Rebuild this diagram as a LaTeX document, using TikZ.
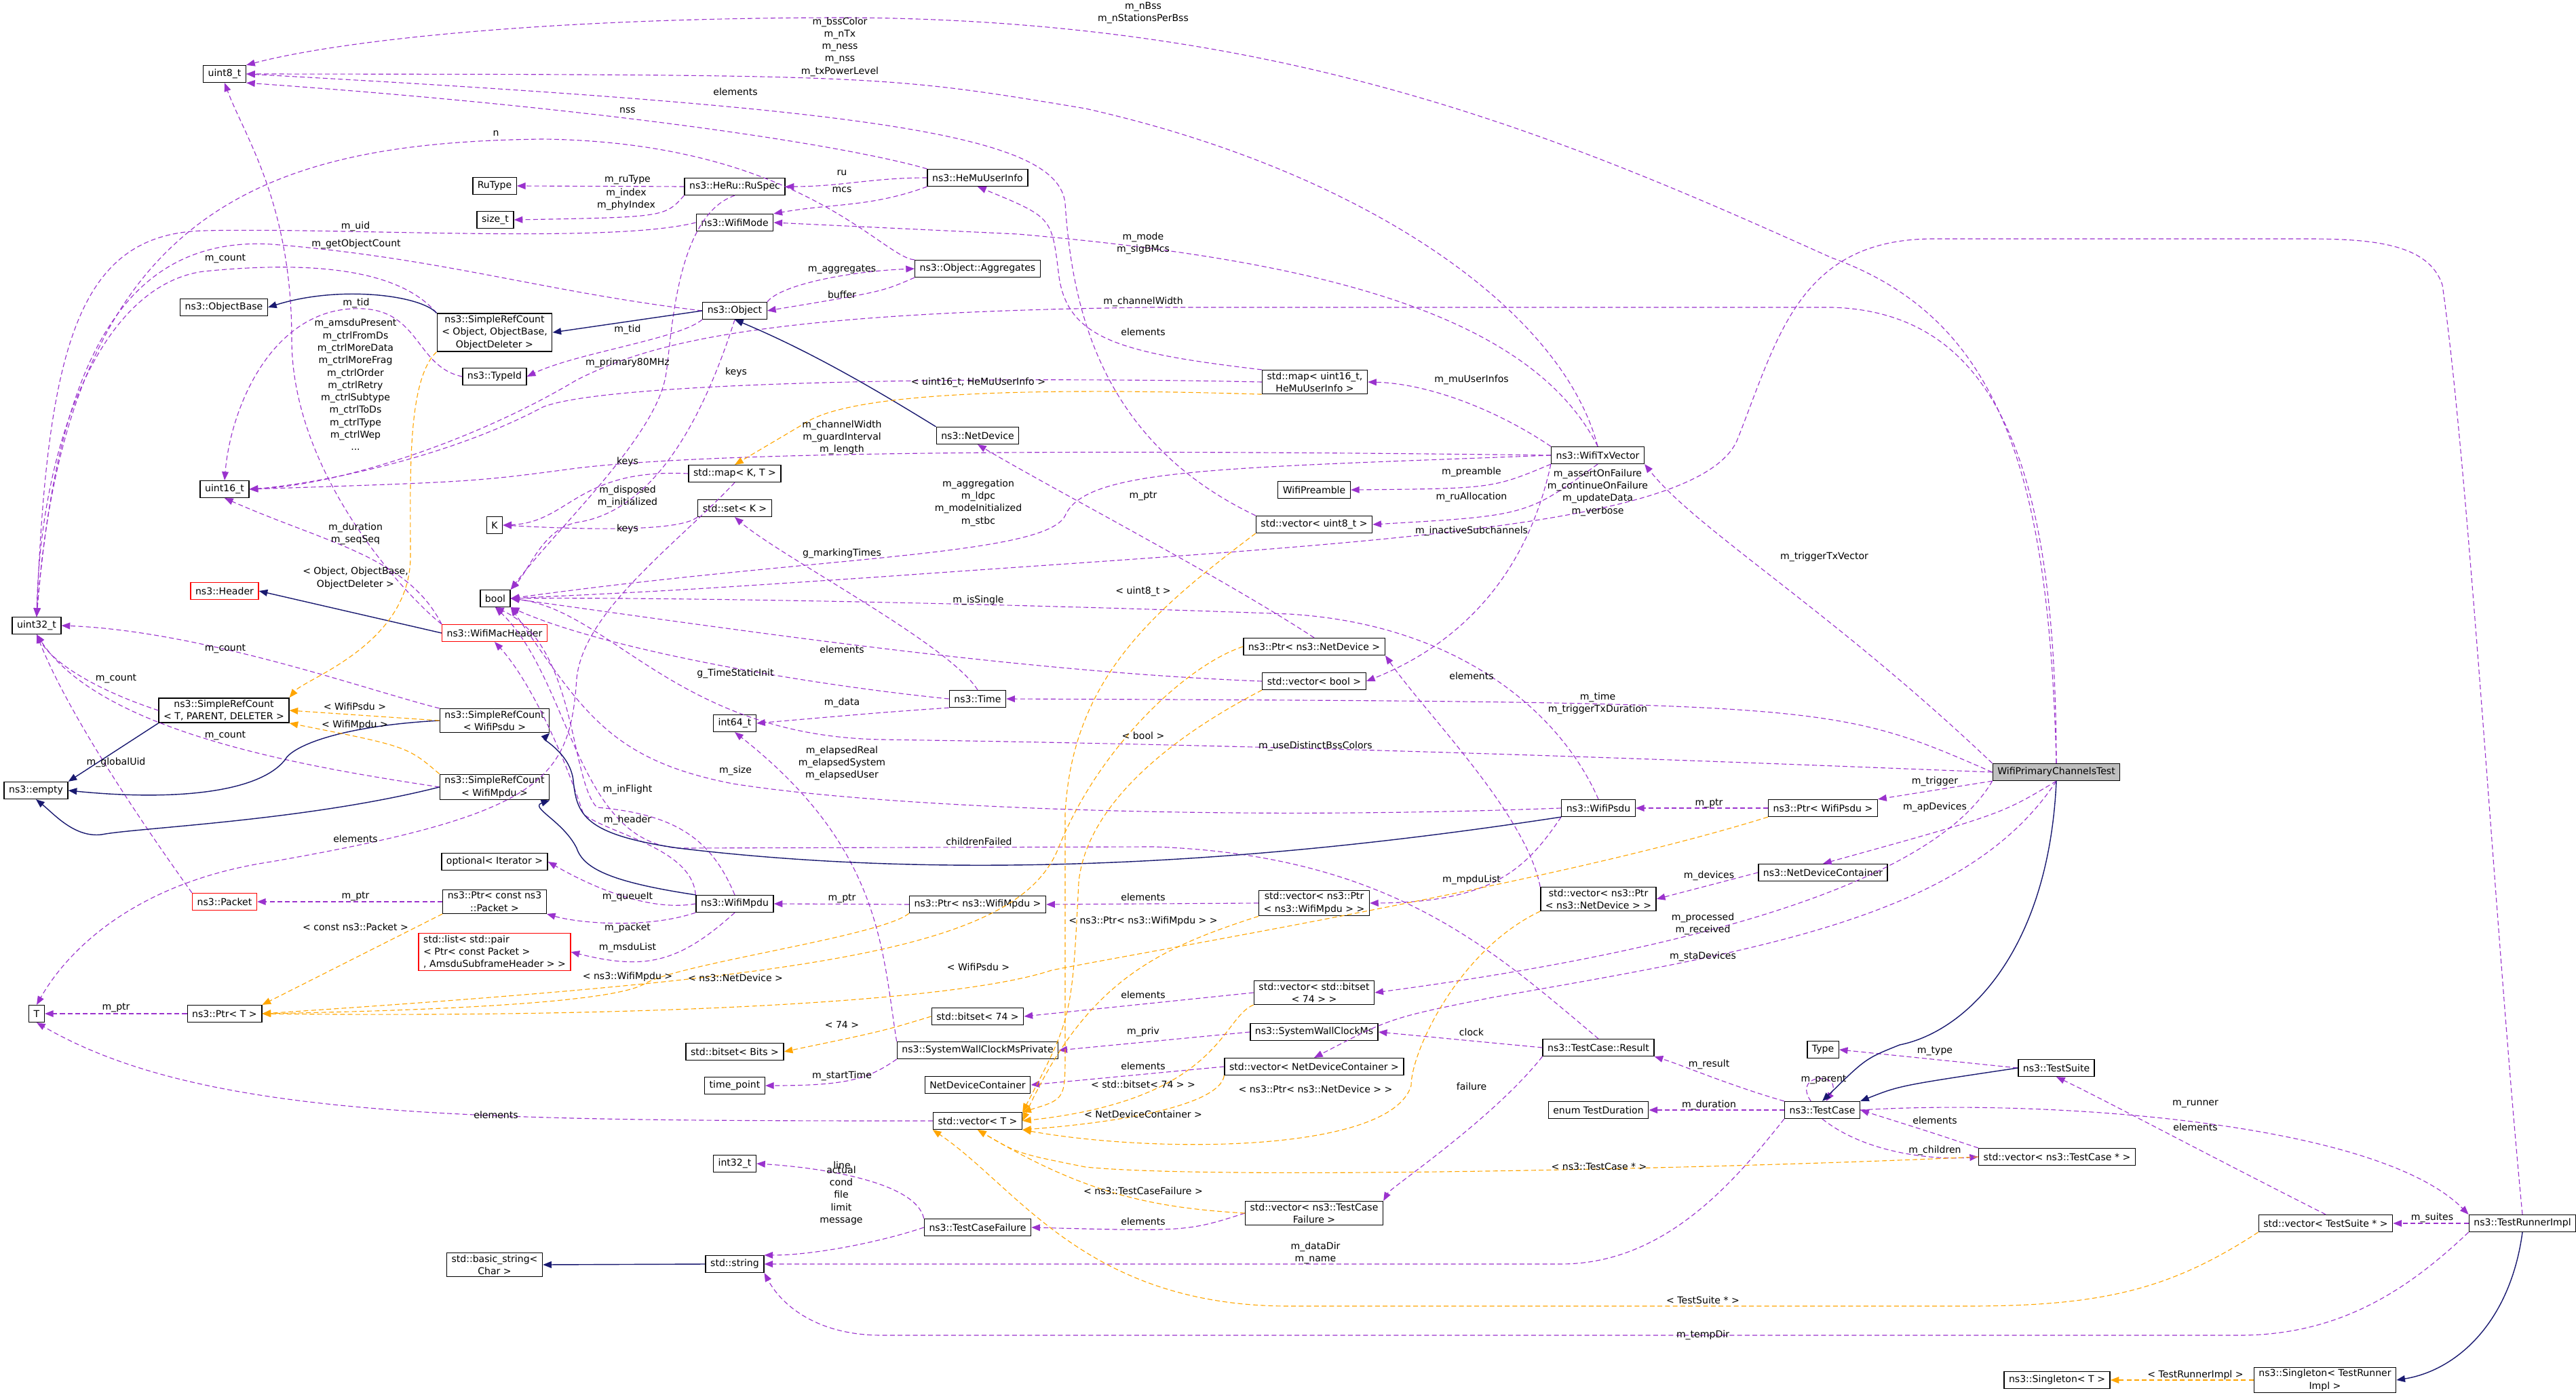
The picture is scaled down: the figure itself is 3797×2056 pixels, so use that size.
\documentclass[tikz,border=0pt]{standalone}
\usepackage{fontspec}
\setmainfont{DejaVu Sans}
\usetikzlibrary{arrows.meta}
\definecolor{ucol}{HTML}{9A32CD}
\definecolor{icol}{HTML}{191970}
\definecolor{tcol}{HTML}{FFA500}
\begin{document}
\begin{tikzpicture}[x=0.025cm,y=-0.025cm,
 every node/.style={font=\fontsize{10}{13}\selectfont},
 box/.style={draw=black,line width=1pt,fill=white,inner xsep=5pt,inner ysep=2pt,minimum height=0.62cm,align=center},
 rbox/.style={box,draw=red},
 gbox/.style={box,fill=black!25},
 lab/.style={inner sep=0pt,align=center},
 ue/.style={draw=ucol,line width=0.8pt,dash pattern=on 5pt off 3pt,-{Triangle[length=9pt,width=7pt]}},
 ie/.style={draw=icol,line width=1pt,-{Triangle[length=9pt,width=7pt]}},
 te/.style={draw=tcol,line width=0.8pt,dash pattern=on 5pt off 3pt,-{Triangle[length=9pt,width=7pt]}}]
\useasboundingbox (0,0) rectangle (3797,2056);
% nodes
\node[box] (u8) at (331,109) {uint8\_t};
\node[box] (rutype) at (729,274) {RuType};
\node[box] (ruspec) at (1083,275) {ns3::HeRu::RuSpec};
\node[box] (sizet) at (730,324) {size\_t};
\node[box] (wifimode) at (1083,328) {ns3::WifiMode};
\node[box] (objbase) at (330,453) {ns3::ObjectBase};
\node[box] (srcobj) at (729,490) {ns3::SimpleRefCount\\< Object, ObjectBase,\\ObjectDeleter >};
\node[box] (obj) at (1083,458) {ns3::Object};
\node[box] (typeid) at (729,555) {ns3::TypeId};
\node[box] (u16) at (331,721) {uint16\_t};
\node[box] (mapkt) at (1083,698) {std::map< K, T >};
\node[box] (kk) at (729,774) {K};
\node[box] (setk) at (1083,749) {std::set< K >};
\node[box] (bool) at (730,882) {bool};
\node[rbox] (header) at (331,871) {ns3::Header};
\node[box] (u32) at (54,922) {uint32\_t};
\node[rbox] (macheader) at (729,933) {ns3::WifiMacHeader};
\node[box] (srctpd) at (330,1047) {ns3::SimpleRefCount\\< T, PARENT, DELETER >};
\node[box] (srcpsdu) at (729,1062) {ns3::SimpleRefCount\\< WifiPsdu >};
\node[box] (empty) at (53,1165) {ns3::empty};
\node[box] (srcmpdu) at (729,1160) {ns3::SimpleRefCount\\< WifiMpdu >};
\node[box] (optit) at (729,1270) {optional< Iterator >};
\node[rbox] (packet) at (331,1329) {ns3::Packet};
\node[box] (ptrpkt) at (729,1329) {ns3::Ptr< const ns3\\::Packet >};
\node[box] (mpdu) at (1083,1332) {ns3::WifiMpdu};
\node[rbox,align=left] (list) at (729,1403) {std::list< std::pair\\< Ptr< const Packet >\\, AmsduSubframeHeader > >};
\node[box] (T) at (54,1494) {T};
\node[box] (ptrT) at (331,1494) {ns3::Ptr< T >};
\node[box] (bitsetbits) at (1083,1550) {std::bitset< Bits >};
\node[box] (timepoint) at (1083,1600) {time\_point};
\node[box] (i64) at (1083,1066) {int64\_t};
\node[box] (i32) at (1083,1715) {int32\_t};
\node[box] (bstring) at (729,1864) {std::basic\_string<\\Char >};
\node[box] (string) at (1083,1863) {std::string};
\node[box] (hemu) at (1441,262) {ns3::HeMuUserInfo};
\node[box] (aggr) at (1441,396) {ns3::Object::Aggregates};
\node[box] (mapu16) at (1938,563) {std::map< uint16\_t,\\HeMuUserInfo >};
\node[box] (netdev) at (1441,642) {ns3::NetDevice};
\node[box] (txv) at (2355,671) {ns3::WifiTxVector};
\node[box] (preamble) at (1937,722) {WifiPreamble};
\node[box] (vecu8) at (1937,773) {std::vector< uint8\_t >};
\node[box] (ptrnd) at (1937,953) {ns3::Ptr< ns3::NetDevice >};
\node[box] (vecbool) at (1937,1004) {std::vector< bool >};
\node[box] (time) at (1441,1030) {ns3::Time};
\node[box] (psdu) at (2356,1191) {ns3::WifiPsdu};
\node[box] (ptrmpdu) at (1441,1333) {ns3::Ptr< ns3::WifiMpdu >};
\node[box] (vecptrmpdu) at (1937,1331) {std::vector< ns3::Ptr\\< ns3::WifiMpdu > >};
\node[box] (vecptrnd) at (2356,1325) {std::vector< ns3::Ptr\\< ns3::NetDevice > >};
\node[box] (vecbs) at (1937,1463) {std::vector< std::bitset\\< 74 > >};
\node[box] (bs74) at (1441,1498) {std::bitset< 74 >};
\node[box] (swcm) at (1937,1521) {ns3::SystemWallClockMs};
\node[box] (swcmp) at (1441,1548) {ns3::SystemWallClockMsPrivate};
\node[box] (vecndc) at (1937,1572) {std::vector< NetDeviceContainer >};
\node[box] (ndc) at (1441,1599) {NetDeviceContainer};
\node[box] (vecT) at (1441,1652) {std::vector< T >};
\node[box] (result) at (2356,1544) {ns3::TestCase::Result};
\node[box] (tdur) at (2356,1636) {enum TestDuration};
\node[box] (vectcf) at (1937,1788) {std::vector< ns3::TestCase\\Failure >};
\node[box] (tcf) at (1441,1809) {ns3::TestCaseFailure};
\node[gbox] (wpct) at (3031,1138) {WifiPrimaryChannelsTest};
\node[box] (ptrpsdu) at (2687,1191) {ns3::Ptr< WifiPsdu >};
\node[box] (ndcont) at (2687,1286) {ns3::NetDeviceContainer};
\node[box] (type) at (2687,1547) {Type};
\node[box] (tsuite) at (3031,1574) {ns3::TestSuite};
\node[box] (tcase) at (2686,1636) {ns3::TestCase};
\node[box] (vectc) at (3032,1705) {std::vector< ns3::TestCase * >};
\node[box] (vects) at (3428,1803) {std::vector< TestSuite * >};
\node[box] (tri) at (3718,1803) {ns3::TestRunnerImpl};
\node[box] (singT) at (3032,2034) {ns3::Singleton< T >};
\node[box] (singtri) at (3427,2034) {ns3::Singleton< TestRunner\\Impl >};
% usage edges
\draw[ue] (wpct.north) .. controls (3020,700) and (2950,470) .. (2700,380) .. controls (2300,200) and (1900,30) .. (1250,26) .. controls (800,26) and (500,60) .. (u8.north east);
\draw[ue] (txv.north) .. controls (2300,450) and (2000,250) .. (1600,160) .. controls (1300,110) .. (u8.east);
\draw[ue] (vecu8.north west) .. controls (1620,650) and (1580,450) .. (1570,300) .. controls (1560,200) and (1300,160) .. (u8.east);
\draw[ue] (hemu.north west) .. controls (1250,215) and (900,160) .. (u8.south east);
\draw[ue] (macheader.north west) .. controls (600,880) and (430,700) .. (430,500) .. controls (430,300) and (360,200) .. (u8.south);
\draw[ue] (macheader.north west) .. controls (600,820) and (480,800) .. (u16.south);
\draw[ue] (aggr.north west) .. controls (1300,380) and (1180,210) .. (800,205) .. controls (400,210) and (100,300) .. (u32.north);
\draw[ue] (wifimode.west) .. controls (900,360) and (500,335) .. (300,340) .. controls (120,345) and (70,500) .. (u32.north);
\draw[ue] (obj.west) .. controls (800,430) and (650,380) .. (400,360) .. controls (150,345) and (80,600) .. (u32.north);
\draw[ue] (srcobj.north west) .. controls (600,410) and (500,380) .. (300,400) .. controls (150,420) and (60,650) .. (u32.north);
\draw[ue] (srcpsdu.north west) .. controls (550,1020) and (300,930) .. (u32.east);
\draw[ue] (srctpd.west) .. controls (150,1020) and (80,980) .. (u32.south);
\draw[ue] (srcmpdu.west) .. controls (450,1130) and (150,1080) .. (u32.south);
\draw[ue] (packet.north west) .. controls (200,1200) and (100,1050) .. (u32.south);
\draw[ue] (obj.north east) .. controls (1150,420) and (1250,400) .. (aggr.west);
\draw[ue] (aggr.south west) .. controls (1300,430) .. (obj.east);
\draw[ue] (hemu.west) to[out=180,in=0] (ruspec.east);
\draw[ue] (hemu.south west) to[out=200,in=10] (wifimode.north east);
\draw[ue] (ruspec.west) -- (rutype.east);
\draw[ue] (ruspec.south west) .. controls (980,320) .. (sizet.east);
\draw[ue] (ruspec.south) .. controls (990,320) and (990,520) .. (980,560) .. controls (960,650) and (820,780) .. (bool.north east);
\draw[ue] (obj.south west) .. controls (1000,500) and (850,520) .. (typeid.east);
\draw[ue] (typeid.west) .. controls (610,540) and (620,450) .. (520,455) .. controls (400,460) and (340,600) .. (u16.north);
\draw[ue] (txv.west) .. controls (1800,665) and (1100,660) .. (850,690) .. controls (700,710) .. (u16.east);
\draw[ue] (mapu16.west) .. controls (1500,555) and (900,560) .. (800,600) .. controls (650,680) and (450,715) .. (u16.east);
\draw[ue] (mapkt.west) .. controls (850,690) and (840,770) .. (kk.east);
\draw[ue] (setk.south west) .. controls (1000,785) and (850,780) .. (kk.east);
\draw[ue] (obj.south) .. controls (1010,700) and (920,760) .. (850,770) .. controls (800,780) and (780,840) .. (bool.north east);
\draw[ue] (txv.west) .. controls (1800,690) and (1600,690) .. (1570,760) .. controls (1540,820) and (1200,820) .. (bool.east);
\draw[ue] (vecbool.west) .. controls (1500,990) and (1100,930) .. (bool.east);
\draw[ue] (time.north) .. controls (1400,950) and (1150,820) .. (setk.south);
\draw[ue] (time.west) .. controls (1200,1010) and (900,960) .. (bool.south east);
\draw[ue] (txv.south west) .. controls (2250,850) and (2150,950) .. (vecbool.east);
\draw[ue] (tri.north) .. controls (3680,1400) and (3640,700) .. (3600,420) .. controls (3580,360) and (3500,352) .. (3400,352) -- (2850,352) .. controls (2650,352) and (2620,500) .. (2560,650) .. controls (2500,780) and (2000,800) .. (1300,850) .. controls (1000,870) .. (bool.east);
\draw[ue] (psdu.north) .. controls (2300,1050) and (2150,920) .. (1900,905) .. controls (1500,890) and (1000,880) .. (bool.east);
\draw[ue] (wpct.west) .. controls (2600,1125) and (2000,1100) .. (1300,1090) .. controls (1000,1085) and (900,900) .. (bool.east);
\draw[ue] (psdu.west) .. controls (1800,1210) and (1300,1190) .. (1080,1155) .. controls (900,1120) and (860,1050) .. (bool.south east);
\draw[ue] (mpdu.north) .. controls (1050,1240) and (1000,1200) .. (880,1190) .. controls (840,1150) and (850,950) .. (bool.south);
\draw[ue] (mpdu.north west) .. controls (1020,1250) and (900,1230) .. (860,1200) .. controls (820,1080) and (770,990) .. (macheader.south);
\draw[ue] (mpdu.west) .. controls (950,1345) and (860,1300) .. (optit.east);
\draw[ue] (mpdu.south west) .. controls (950,1370) and (850,1360) .. (ptrpkt.south east);
\draw[ue] (mpdu.south) .. controls (1000,1420) and (950,1430) .. (list.east);
\draw[ue] (ptrpkt.west) -- (packet.east);
\draw[ue] (ptrmpdu.west) -- (mpdu.east);
\draw[ue] (vecptrmpdu.west) -- (ptrmpdu.east);
\draw[ue] (psdu.south west) .. controls (2250,1280) and (2200,1330) .. (vecptrmpdu.east);
\draw[ue] (ptrpsdu.west) -- (psdu.east);
\draw[ue] (wpct.south west) -- (ptrpsdu.north east);
\draw[ue] (wpct.south) .. controls (2950,1200) .. (ndcont.north);
\draw[ue] (ndcont.west) -- (vecptrnd.east);
\draw[ue] (vecptrnd.north west) .. controls (2250,1200) and (2100,1050) .. (ptrnd.south east);
\draw[ue] (ptrnd.north) .. controls (1800,850) and (1550,720) .. (netdev.south);
\draw[ue] (wpct.south west) .. controls (2850,1300) and (2500,1400) .. (vecbs.east);
\draw[ue] (wpct.south) .. controls (2900,1350) and (2600,1400) .. (2200,1470) .. controls (2050,1500) .. (vecndc.north);
\draw[ue] (vecbs.west) -- (bs74.east);
\draw[ue] (swcm.west) -- (swcmp.east);
\draw[ue] (vecndc.west) -- (ndc.east);
\draw[ue] (result.west) -- (swcm.east);
\draw[ue] (result.south west) .. controls (2200,1650) and (2050,1750) .. (vectcf.north east);
\draw[ue] (vectcf.west) .. controls (1750,1815) .. (tcf.east);
\draw[ue] (tcf.north west) .. controls (1350,1740) and (1200,1720) .. (i32.east);
\draw[ue] (tcf.west) .. controls (1300,1830) and (1200,1850) .. (string.north east);
\draw[ue] (tcase.south west) .. controls (2550,1750) and (2450,1863) .. (2300,1863) -- (string.east);
\draw[ue] (tri.south west) .. controls (3550,1900) and (3450,1968) .. (3300,1968) -- (1300,1968) .. controls (1200,1968) and (1150,1920) .. (string.south east);
\draw[ue] (swcmp.south west) .. controls (1280,1590) and (1250,1600) .. (timepoint.east);
\draw[ue] (swcmp.north west) .. controls (1300,1400) and (1300,1250) .. (i64.south);
\draw[ue] (time.south west) .. controls (1300,1050) .. (i64.east);
\draw[ue] (result.north) .. controls (2200,1400) and (2050,1260) .. (1700,1248) -- (1000,1250) .. controls (850,1240) and (840,1000) .. (bool.south);
\draw[ue] (tcase.north west) .. controls (2550,1600) and (2480,1570) .. (result.south east);
\draw[ue] (tcase.west) -- (tdur.east);
\draw[ue] ([xshift=-12pt]tcase.north) .. controls (2640,1580) and (2720,1580) .. ([xshift=4pt]tcase.north);
\draw[ue] (vectc.north west) .. controls (2850,1670) .. (tcase.east);
\draw[ue] (tcase.south) .. controls (2750,1700) and (2850,1710) .. (vectc.west);
\draw[ue] (tsuite.west) -- (type.east);
\draw[ue] (tcase.east) .. controls (3000,1620) and (3500,1650) .. (tri.north west);
\draw[ue] (vects.north) .. controls (3250,1700) and (3100,1620) .. (tsuite.south);
\draw[ue] (tri.west) -- (vects.east);
\draw[ue] (wpct.west) .. controls (2700,1035) .. (time.east);
\draw[ue] (wpct.north west) .. controls (2700,900) and (2500,780) .. (txv.south east);
\draw[ue] (wpct.north) .. controls (3030,700) and (2950,460) .. (2700,453) -- (1700,453) .. controls (1100,460) and (950,510) .. (850,560) .. controls (700,650) and (500,715) .. (u16.east);
\draw[ue] (txv.north) .. controls (2250,450) and (1900,380) .. (1500,345) -- (wifimode.east);
\draw[ue] (txv.north west) .. controls (2200,600) and (2100,565) .. (mapu16.east);
\draw[ue] (txv.south west) .. controls (2200,720) .. (preamble.east);
\draw[ue] (txv.south) .. controls (2250,760) .. (vecu8.east);
\draw[ue] (mapu16.north west) .. controls (1650,520) and (1570,500) .. (1560,400) .. controls (1550,320) .. (hemu.south);
\draw[ue] (ptrT.west) -- (T.east);
\draw[ue] (vecT.west) .. controls (700,1652) and (300,1650) .. (T.south);
\draw[ue] (mapkt.south) .. controls (1000,800) and (860,900) .. (850,1000) .. controls (840,1150) and (800,1200) .. (400,1270) .. controls (200,1300) and (100,1400) .. (T.north);
% inheritance
\draw[ie] (srcobj.north west) .. controls (620,435) and (500,420) .. (objbase.east);
\draw[ie] (obj.west) -- (srcobj.east);
\draw[ie] (netdev.north west) .. controls (1300,580) and (1200,520) .. (obj.south);
\draw[ie] (macheader.west) -- (header.east);
\draw[ie] (srctpd.south west) -- (empty.north east);
\draw[ie] (srcpsdu.west) .. controls (500,1070) and (430,1100) .. (420,1120) .. controls (380,1170) and (250,1180) .. (empty.east);
\draw[ie] (srcmpdu.west) .. controls (450,1210) and (200,1220) .. (150,1230) .. controls (110,1235) and (80,1200) .. (empty.south);
\draw[ie] (mpdu.north west) .. controls (900,1300) and (860,1280) .. (850,1250) .. controls (830,1210) and (780,1190) .. (srcmpdu.south east);
\draw[ie] (psdu.south west) .. controls (2000,1250) and (1500,1310) .. (1000,1250) .. controls (860,1230) and (850,1200) .. (845,1150) .. controls (840,1110) and (800,1090) .. (srcpsdu.south east);
\draw[ie] (wpct.south) .. controls (3020,1400) and (2900,1520) .. (2800,1540) .. controls (2750,1560) .. (tcase.north);
\draw[ie] (tsuite.west) .. controls (2800,1600) .. (tcase.north east);
\draw[ie] (string.west) -- (bstring.east);
\draw[ie] (tri.south) .. controls (3700,1950) and (3620,2020) .. (singtri.east);
% templates
\draw[te] (srcobj.south west) .. controls (600,560) and (605,700) .. (605,820) .. controls (605,950) and (450,1000) .. (srctpd.north east);
\draw[te] (srcpsdu.west) -- (srctpd.east);
\draw[te] (srcmpdu.north west) .. controls (600,1100) .. (srctpd.south east);
\draw[te] (ptrpkt.south west) -- (ptrT.north east);
\draw[te] (ptrmpdu.south west) .. controls (1300,1380) and (1000,1420) .. (950,1450) .. controls (900,1480) and (600,1490) .. (ptrT.east);
\draw[te] (ptrnd.west) .. controls (1750,980) and (1620,1100) .. (1560,1250) .. controls (1500,1400) and (1200,1440) .. (ptrT.east);
\draw[te] (ptrpsdu.south west) .. controls (2300,1300) and (1700,1400) .. (1550,1430) .. controls (1400,1480) and (900,1500) .. (ptrT.east);
\draw[te] (bs74.west) .. controls (1300,1520) .. (bitsetbits.east);
\draw[te] (mapu16.south west) .. controls (1500,570) and (1250,580) .. (1186,624) -- (mapkt.north);
\draw[te] (vecu8.south west) .. controls (1700,900) and (1580,1000) .. (1570,1200) -- (1570,1550) .. controls (1570,1620) .. (vecT.north east);
\draw[te] (vecbool.south west) .. controls (1700,1100) and (1600,1200) .. (1590,1300) .. controls (1580,1500) .. (vecT.north east);
\draw[te] (vecptrmpdu.south west) .. controls (1700,1400) and (1600,1450) .. (vecT.east);
\draw[te] (vecbs.south west) .. controls (1800,1500) and (1800,1620) .. (vecT.east);
\draw[te] (vecptrnd.south west) .. controls (2150,1400) and (2080,1550) .. (2080,1600) .. controls (2050,1700) and (1700,1700) .. (vecT.south east);
\draw[te] (vecndc.south west) .. controls (1800,1620) and (1700,1650) .. (vecT.south east);
\draw[te] (vectcf.west) .. controls (1700,1780) and (1600,1760) .. (vecT.south);
\draw[te] (vectc.west) .. controls (2600,1720) and (1800,1740) .. (1600,1720) .. controls (1500,1700) .. (vecT.south);
\draw[te] (vects.south west) .. controls (3200,1900) and (3100,1925) .. (2900,1925) -- (1900,1925) .. controls (1600,1925) and (1500,1750) .. (vecT.south west);
\draw[te] (singtri.west) -- (singT.east);
% labels
\node[lab] (l1) at (1685,19) {m\_nBss\\m\_nStationsPerBss};
\node[lab] (l2) at (1238,69) {m\_bssColor\\m\_nTx\\m\_ness\\m\_nss\\m\_txPowerLevel};
\node[lab] (l3) at (1084,135) {elements};
\node[lab] (l4) at (925,163) {nss};
\node[lab] (l5) at (731,197) {n};
\node[lab] (l6) at (925,265) {m\_ruType};
\node[lab] (l7) at (923,294) {m\_index\\m\_phyIndex};
\node[lab] (l8) at (1241,255) {ru};
\node[lab] (l9) at (1241,280) {mcs};
\node[lab] (l10) at (524,334) {m\_uid};
\node[lab] (l11) at (525,360) {m\_getObjectCount};
\node[lab] (l12) at (332,381) {m\_count};
\node[lab] (l13) at (1241,397) {m\_aggregates};
\node[lab] (l14) at (1241,434) {buffer};
\node[lab] (l15) at (525,447) {m\_tid};
\node[lab] (l16) at (925,486) {m\_tid};
\node[lab] (l17) at (524,567) {m\_amsduPresent\\m\_ctrlFromDs\\m\_ctrlMoreData\\m\_ctrlMoreFrag\\m\_ctrlOrder\\m\_ctrlRetry\\m\_ctrlSubtype\\m\_ctrlToDs\\m\_ctrlType\\m\_ctrlWep\\...};
\node[lab] (l18) at (925,535) {m\_primary80MHz};
\node[lab] (l19) at (1085,549) {keys};
\node[lab] (l20) at (1241,645) {m\_channelWidth\\m\_guardInterval\\m\_length};
\node[lab] (l21) at (925,681) {keys};
\node[lab] (l22) at (925,732) {m\_disposed\\m\_initialized};
\node[lab] (l23) at (925,780) {keys};
\node[lab] (l24) at (1241,816) {g\_markingTimes};
\node[lab] (l25) at (524,787) {m\_duration\\m\_seqSeq};
\node[lab] (l26) at (524,852) {< Object, ObjectBase,\\ObjectDeleter >};
\node[lab] (l27) at (1241,957) {elements};
\node[lab] (l28) at (332,956) {m\_count};
\node[lab] (l29) at (1084,993) {g\_TimeStaticInit};
\node[lab] (l30) at (171,1000) {m\_count};
\node[lab] (l31) at (523,1041) {< WifiPsdu >};
\node[lab] (l32) at (523,1069) {< WifiMpdu >};
\node[lab] (l33) at (332,1084) {m\_count};
\node[lab] (l34) at (171,1124) {m\_globalUid};
\node[lab] (l35) at (524,1236) {elements};
\node[lab] (l36) at (524,1321) {m\_ptr};
\node[lab] (l37) at (524,1366) {< const ns3::Packet >};
\node[lab] (l38) at (925,1164) {m\_inFlight};
\node[lab] (l39) at (925,1209) {m\_header};
\node[lab] (l40) at (1084,1136) {m\_size};
\node[lab] (l41) at (1241,1125) {m\_elapsedReal\\m\_elapsedSystem\\m\_elapsedUser};
\node[lab] (l42) at (1241,1036) {m\_data};
\node[lab] (l43) at (925,1322) {m\_queueIt};
\node[lab] (l44) at (925,1368) {m\_packet};
\node[lab] (l45) at (925,1397) {m\_msduList};
\node[lab] (l46) at (925,1440) {< ns3::WifiMpdu >};
\node[lab] (l47) at (1084,1441) {< ns3::NetDevice >};
\node[lab] (l48) at (171,1485) {m\_ptr};
\node[lab] (l49) at (1241,1510) {< 74 >};
\node[lab] (l50) at (1241,1586) {m\_startTime};
\node[lab] (l51) at (731,1643) {elements};
\node[lab] (l52) at (1241,1717) {line};
\node[lab] (l53) at (1240,1762) {actual\\cond\\file\\limit\\message};
\node[lab] (l54) at (1241,1324) {m\_ptr};
\node[lab] (l55) at (1685,359) {m\_mode\\m\_sigBMcs};
\node[lab] (l56) at (1685,445) {m\_channelWidth};
\node[lab] (l57) at (1685,489) {elements};
\node[lab] (l58) at (1442,564) {< uint16\_t, HeMuUserInfo >};
\node[lab] (l59) at (2169,560) {m\_muUserInfos};
\node[lab] (l60) at (1442,741) {m\_aggregation\\m\_ldpc\\m\_modeInitialized\\m\_stbc};
\node[lab] (l61) at (1685,731) {m\_ptr};
\node[lab] (l62) at (2169,696) {m\_preamble};
\node[lab] (l63) at (2169,733) {m\_ruAllocation};
\node[lab] (l64) at (2355,726) {m\_assertOnFailure\\m\_continueOnFailure\\m\_updateData\\m\_verbose};
\node[lab] (l65) at (2169,783) {m\_inactiveSubchannels};
\node[lab] (l66) at (1685,872) {< uint8\_t >};
\node[lab] (l67) at (1442,885) {m\_isSingle};
\node[lab] (l68) at (2169,996) {elements};
\node[lab] (l69) at (2355,1037) {m\_time\\m\_triggerTxDuration};
\node[lab] (l70) at (1685,1084) {< bool >};
\node[lab] (l71) at (1939,1100) {m\_useDistinctBssColors};
\node[lab] (l72) at (2519,1184) {m\_ptr};
\node[lab] (l73) at (1443,1240) {childrenFailed};
\node[lab] (l74) at (2169,1297) {m\_mpduList};
\node[lab] (l75) at (1685,1322) {elements};
\node[lab] (l76) at (1685,1358) {< ns3::Ptr< ns3::WifiMpdu > >};
\node[lab] (l77) at (2519,1291) {m\_devices};
\node[lab] (l78) at (2510,1362) {m\_processed\\m\_received};
\node[lab] (l79) at (2510,1410) {m\_staDevices};
\node[lab] (l80) at (1442,1425) {< WifiPsdu >};
\node[lab] (l81) at (1685,1466) {elements};
\node[lab] (l82) at (1685,1521) {m\_priv};
\node[lab] (l83) at (2169,1521) {clock};
\node[lab] (l84) at (1685,1571) {elements};
\node[lab] (l85) at (1685,1598) {< std::bitset< 74 > >};
\node[lab] (l86) at (1939,1605) {< ns3::Ptr< ns3::NetDevice > >};
\node[lab] (l87) at (2169,1601) {failure};
\node[lab] (l88) at (1685,1642) {< NetDeviceContainer >};
\node[lab] (l89) at (2519,1569) {m\_result};
\node[lab] (l90) at (2519,1629) {m\_duration};
\node[lab] (l91) at (2357,1719) {< ns3::TestCase * >};
\node[lab] (l92) at (1685,1755) {< ns3::TestCaseFailure >};
\node[lab] (l93) at (1685,1800) {elements};
\node[lab] (l94) at (1939,1847) {m\_dataDir\\m\_name};
\node[lab] (l95) at (2510,1916) {< TestSuite * >};
\node[lab] (l96) at (2510,1968) {m\_tempDir};
\node[lab] (l97) at (2689,821) {m\_triggerTxVector};
\node[lab] (l98) at (2852,1152) {m\_trigger};
\node[lab] (l99) at (2852,1190) {m\_apDevices};
\node[lab] (l100) at (2852,1549) {m\_type};
\node[lab] (l101) at (2688,1591) {m\_parent};
\node[lab] (l102) at (3236,1627) {m\_runner};
\node[lab] (l103) at (2852,1651) {elements};
\node[lab] (l104) at (3236,1661) {elements};
\node[lab] (l105) at (2852,1696) {m\_children};
\node[lab] (l106) at (3585,1795) {m\_suites};
\node[lab] (l107) at (3236,2027) {< TestRunnerImpl >};
\end{tikzpicture}
\end{document}
